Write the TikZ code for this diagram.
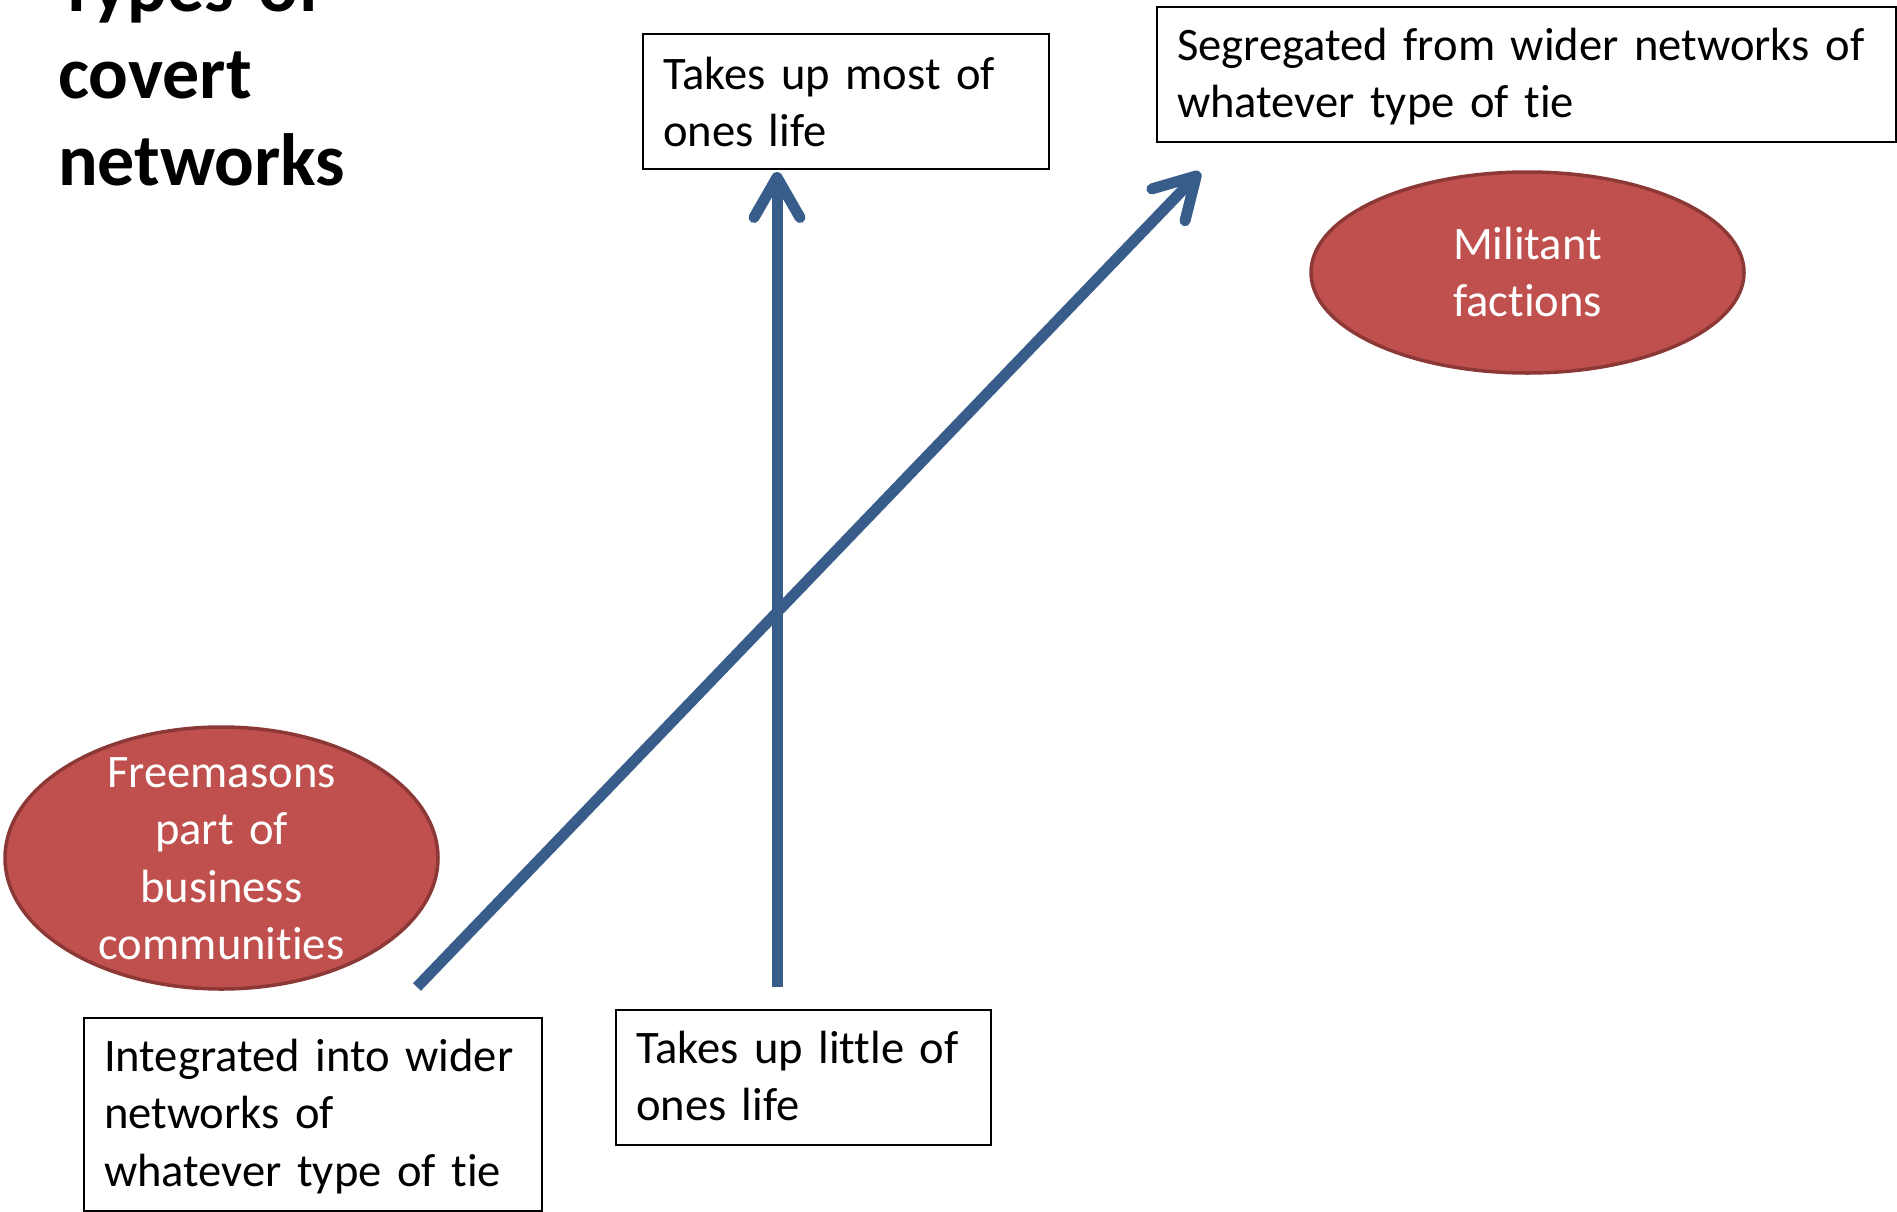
\documentclass[tikz,border=0pt]{standalone}
\usepackage{fontspec}
\setmainfont{Carlito}[Ligatures=NoCommon]
\usetikzlibrary{arrows.meta,shapes.geometric}
\definecolor{axisblue}{HTML}{385D8A}
\definecolor{groupfill}{HTML}{C0504D}
\definecolor{groupedge}{HTML}{8C3836}
\newcommand{\bodyfont}{\fontsize{46.6}{57.5}\selectfont}
\newcommand{\titlefont}{\fontsize{74}{87}\selectfont\bfseries}
\begin{document}
\begin{tikzpicture}[x=1pt,y=-1pt,
  labelbox/.style={draw=black, line width=2pt, anchor=north west, inner xsep=20pt,
    inner ysep=0pt, align=left, font=\bodyfont, text height=53pt, text depth=82pt},
  group/.style={ellipse, draw=groupedge, fill=groupfill, line width=3.5pt, inner sep=0pt,
    text=white, align=center, font=\bodyfont, text width=280pt, text height=0pt},
  axis/.style={draw=axisblue, line width=11pt, -{Straight Barb[length=40pt,width=46pt,round]}}
]
\useasboundingbox (0,0) rectangle (1897,1211);
\clip (0,0) rectangle (1897,1211);

% title, partly running off the top edge
\node[anchor=base west, align=left, text width=500pt, font=\titlefont, inner sep=0pt]
  (title) at (58,11) {Types of\\covert\\networks};

% axis end labels
\node[labelbox, text width=366pt, text height=55pt, text depth=80pt] (most) at (642,33)
  {Takes up most of\\ones life};
\node[labelbox, text width=699pt] (segregated) at (1156,6)
  {Segregated from wider networks of\\whatever type of tie};
\node[labelbox, text width=418pt, text depth=140pt] (integrated) at (83,1017)
  {Integrated into wider\\networks of\\whatever type of tie};
\node[labelbox, text width=335pt] (little) at (615,1009)
  {Takes up little of\\ones life};

% example groups
\node[group, minimum width=433pt, minimum height=262pt, text depth=142pt]
  (freemasons) at (221.5,858) {Freemasons\\part of\\business\\communities};
\node[group, minimum width=433pt, minimum height=201pt, text depth=27pt]
  (militant) at (1527.5,272.5) {Militant\\factions};

% the two axes
\coordinate (vbase) at (777,987);
\coordinate (vtip) at (777,172);
\coordinate (dbase) at (417,987);
\coordinate (dtip) at (1200,172);
\draw[axis] (vbase) -- (vtip);
\draw[axis] (dbase) -- (dtip);
\end{tikzpicture}
\end{document}
